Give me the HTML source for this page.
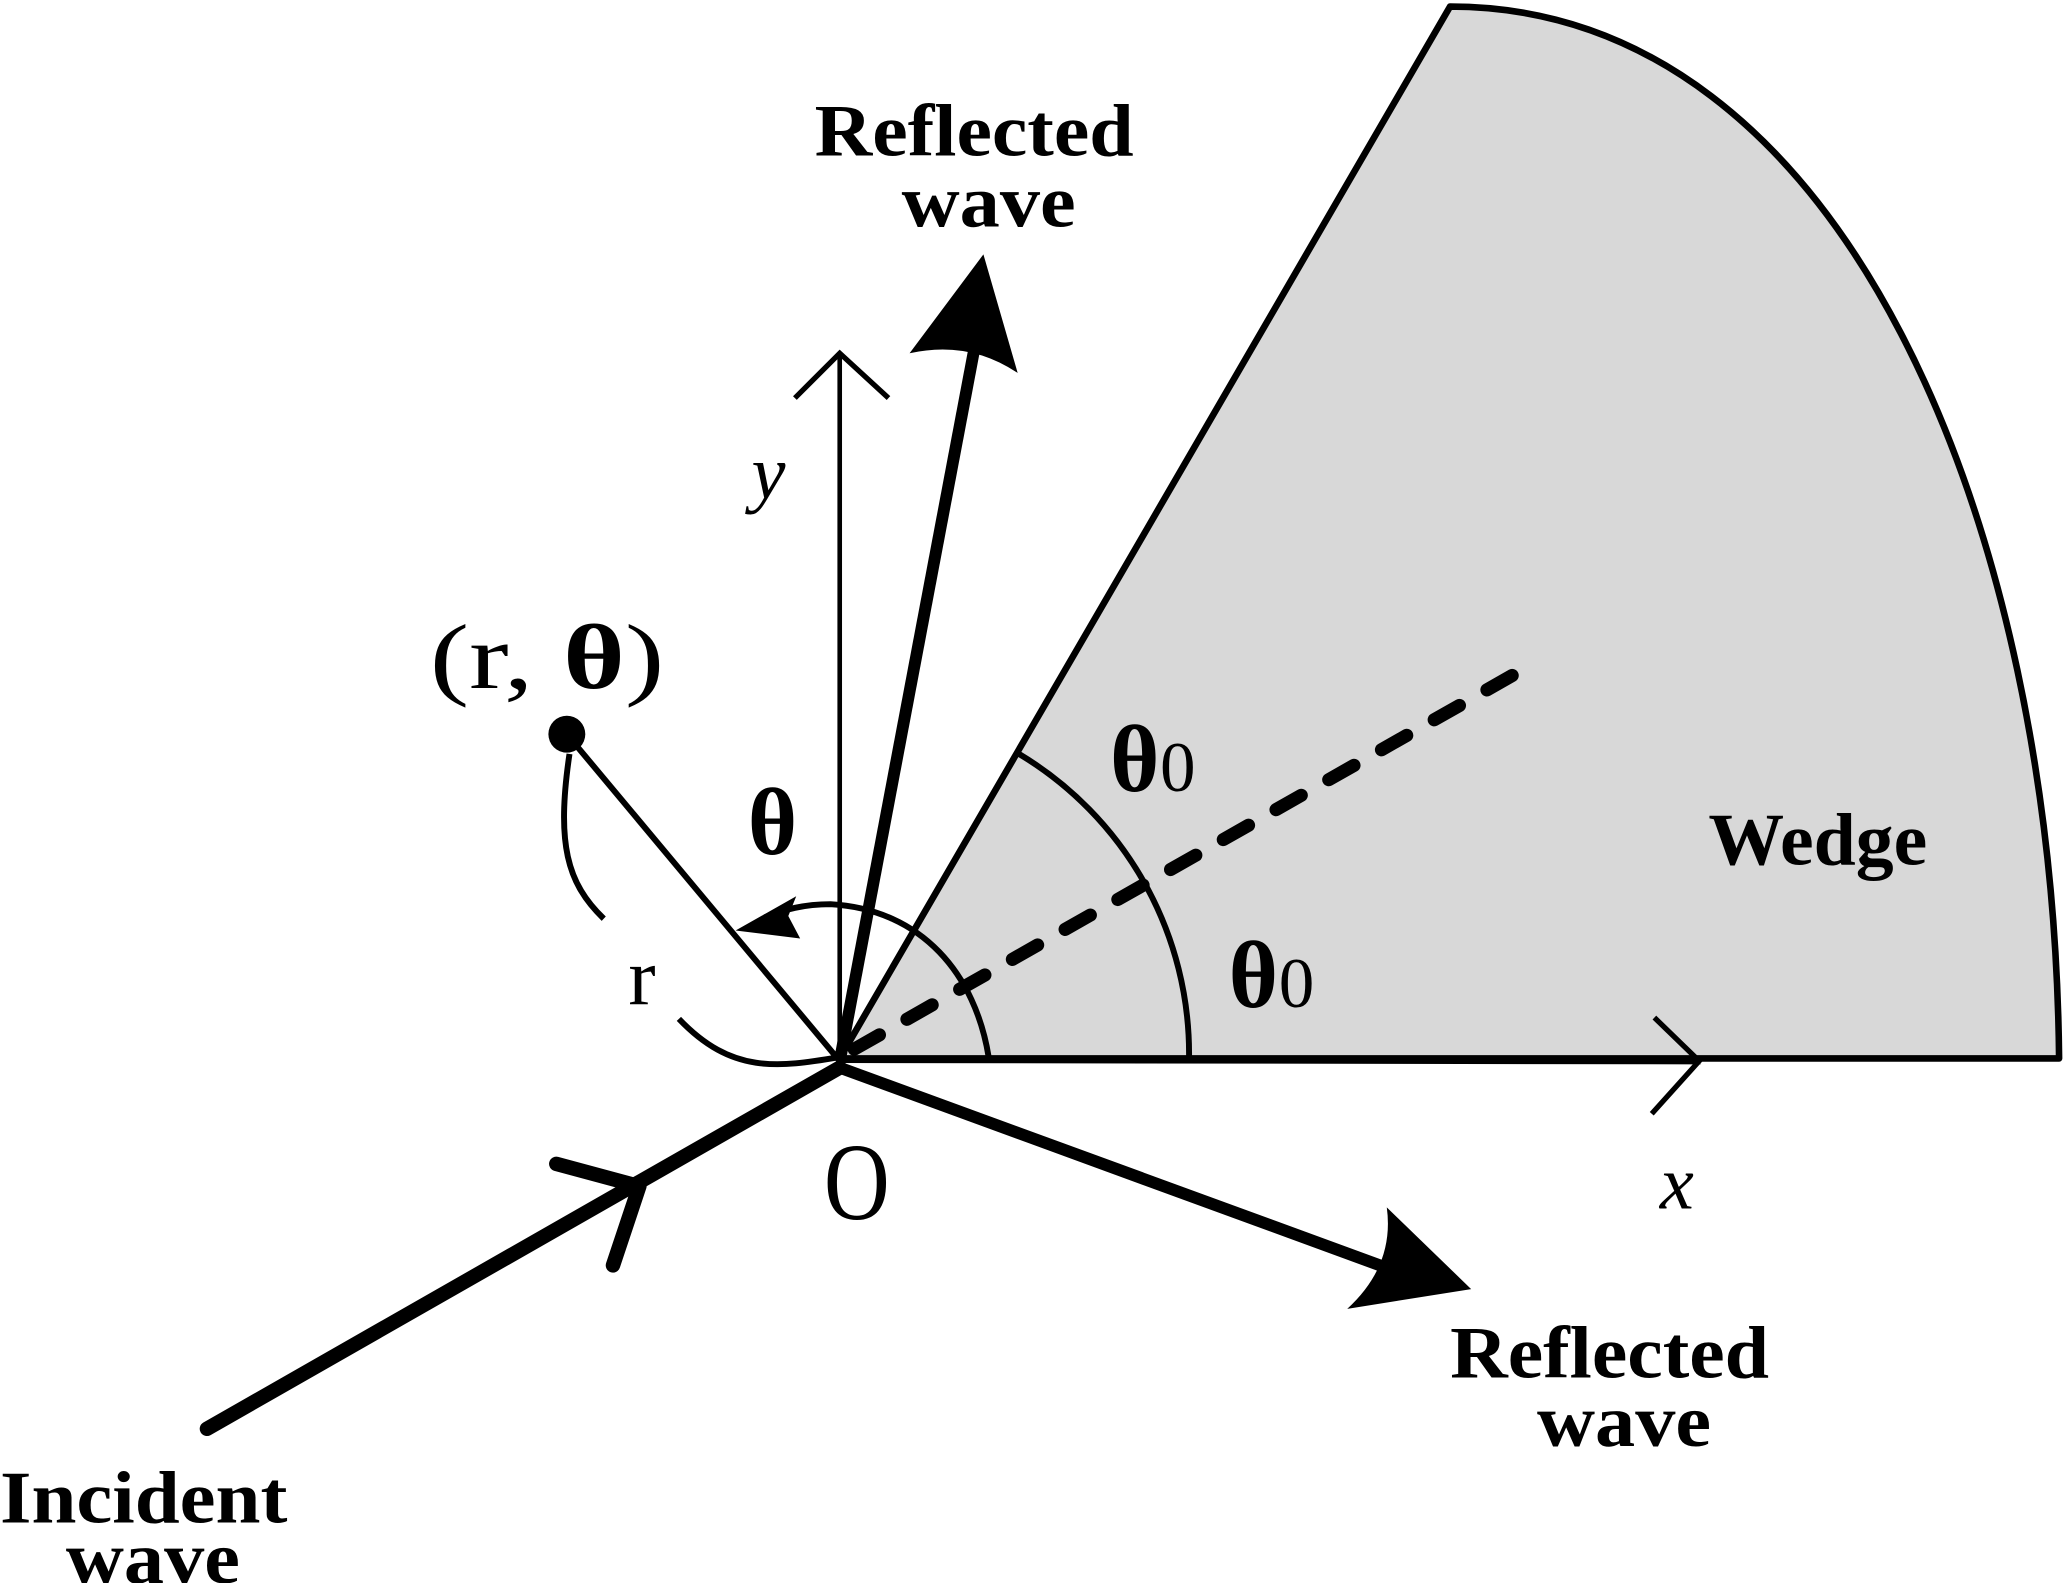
<!DOCTYPE html>
<html><head><meta charset="utf-8"><style>
html,body{margin:0;padding:0;background:#fff}
svg{display:block}
text{font-family:"Liberation Serif",serif;fill:#000}
.b{font-weight:bold}
</style></head><body>
<svg width="2067" height="1583" viewBox="0 0 1568 1201" preserveAspectRatio="none" xmlns="http://www.w3.org/2000/svg">
<path d="M637,803 L1100,5 C1400,5 1558,400 1562,803 Z" fill="#d8d8d8" stroke="#000" stroke-width="5" stroke-linejoin="round"/>
<line x1="637" y1="804" x2="1290" y2="805" stroke="#000" stroke-width="5"/>
<polyline points="1255,772 1289,805 1253,845" fill="none" stroke="#000" stroke-width="4"/>
<line x1="637" y1="805" x2="637" y2="268" stroke="#000" stroke-width="3.5"/>
<polyline points="603,302 637,268 674,302" fill="none" stroke="#000" stroke-width="4"/>
<path d="M902,802 A265,265 0 0 0 773,572" fill="none" stroke="#000" stroke-width="4.5"/>
<path d="M750,802 C740,740 700,690 630,686 C610,686 595,690 580,696" fill="none" stroke="#000" stroke-width="4.5"/>
<polygon points="558,706 604,680 598,695 607,712" fill="#000"/>
<line x1="648" y1="796" x2="1148" y2="512" stroke="#000" stroke-width="10" stroke-dasharray="22,24" stroke-linecap="round"/>
<line x1="430" y1="557" x2="637" y2="805" stroke="#000" stroke-width="4.5"/>
<circle cx="430" cy="557" r="14" fill="#000"/>
<path d="M432,572 C422,640 430,670 458,697" fill="none" stroke="#000" stroke-width="4.5"/>
<path d="M515,773 C555,815 590,810 637,802" fill="none" stroke="#000" stroke-width="4.5"/>
<line x1="637" y1="805" x2="740" y2="260" stroke="#000" stroke-width="9"/>
<path d="M746,193 L772,283 Q735,258 690,268 Z" fill="#000"/>
<line x1="637" y1="810" x2="1055" y2="963" stroke="#000" stroke-width="9"/>
<path d="M1116,978 L1022,993 Q1058,960 1052,916 Z" fill="#000"/>
<line x1="157" y1="1084" x2="637" y2="810" stroke="#000" stroke-width="11" stroke-linecap="round"/>
<polyline points="422,883 485,900 465,960" fill="none" stroke="#000" stroke-width="11" stroke-linecap="round" stroke-linejoin="round"/>
<text x="618" y="118" class="b" font-size="56" textLength="242" lengthAdjust="spacingAndGlyphs">Reflected</text>
<text x="684" y="172" class="b" font-size="56" textLength="132" lengthAdjust="spacingAndGlyphs">wave</text>
<text x="1100" y="1045" class="b" font-size="56" textLength="242" lengthAdjust="spacingAndGlyphs">Reflected</text>
<text x="1166" y="1097" class="b" font-size="56" textLength="132" lengthAdjust="spacingAndGlyphs">wave</text>
<text x="0" y="1155" class="b" font-size="56" textLength="218" lengthAdjust="spacingAndGlyphs">Incident</text>
<text x="50" y="1201" class="b" font-size="56" textLength="132" lengthAdjust="spacingAndGlyphs">wave</text>
<text x="1296" y="656" class="b" font-size="56" textLength="166" lengthAdjust="spacingAndGlyphs">Wedge</text>
<text x="326" y="522" font-size="70" textLength="178" lengthAdjust="spacingAndGlyphs">(r, <tspan font-weight="bold">θ</tspan>)</text>
<text x="586" y="648" font-size="72" font-weight="bold" text-anchor="middle">θ</text>
<text x="842" y="600" font-size="72" font-weight="bold">θ</text><text x="880" y="600" font-size="54">0</text>
<text x="932" y="764" font-size="72" font-weight="bold">θ</text><text x="970" y="764" font-size="54">0</text>
<text x="487" y="762" font-size="62" text-anchor="middle">r</text>
<text x="650" y="925" font-size="84" text-anchor="middle" textLength="50" lengthAdjust="spacingAndGlyphs">O</text>
<text x="583" y="378" font-size="58" font-style="italic" text-anchor="middle">y</text>
<text x="1272" y="917" font-size="58" font-style="italic" text-anchor="middle">x</text>
</svg>
</body></html>
